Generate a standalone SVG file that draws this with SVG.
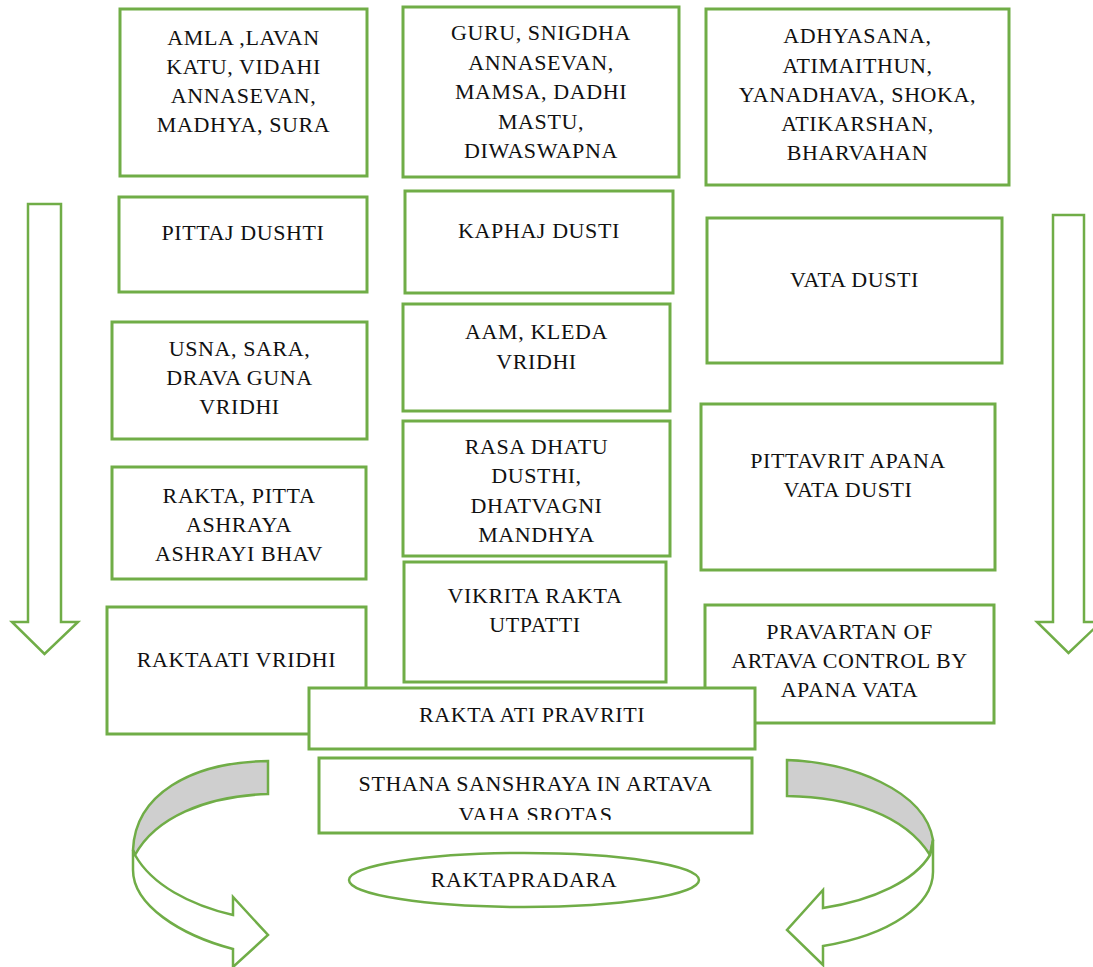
<svg xmlns="http://www.w3.org/2000/svg" width="1093" height="967" viewBox="0 0 1093 967">
<style>
.box{fill:#fff;stroke:#70AD47;stroke-width:3}
.arr{fill:#fff;stroke:#70AD47;stroke-width:2.5;stroke-linejoin:miter}
.band{fill:#CFCFCF;stroke:#70AD47;stroke-width:2.5}
text{font-family:'Liberation Serif','Times New Roman',serif;font-size:22px;letter-spacing:0.6px;fill:#111;text-anchor:middle}
</style>
<defs>
<clipPath id="clipSthana"><rect x="319" y="758" width="433" height="62"/></clipPath>
</defs>
<rect width="1093" height="967" fill="#fff"/>
<g id="connectors">
<path class="arr" d="M28,204 L61,204 L61,622 L78,622 L44.5,654 L12,622 L28,622 Z"/>
<path class="arr" d="M1053,215 L1084,215 L1084,622 L1101,622 L1068.5,653 L1037,622 L1053,622 Z"/>
<path class="band" d="M268,761 C190,762 135,795 133,850 L135,855 C155,818 205,796 268,794 Z"/>
<path class="arr" d="M135,855 C152,885 190,905 233,915 L233,897 L268,935 L233,967 L233,949 C180,935 133,905 133,870 L133,850 Z"/>
<path class="band" d="M787,760 C850,762 925,790 933,840 L930,855 C905,815 850,797 787,796 Z"/>
<path class="arr" d="M930,855 C915,880 875,900 823,908 L823,890 L787,930 L823,965 L823,946 C890,935 933,905 933,872 L933,840 Z"/>
</g>
<g id="n-amla"><rect class="box" x="120" y="9" width="247" height="167"/>
<text x="243.5" y="45">AMLA ,LAVAN</text><text x="243.5" y="74">KATU, VIDAHI</text><text x="243.5" y="103">ANNASEVAN,</text><text x="243.5" y="132">MADHYA, SURA</text></g>
<g id="n-guru"><rect class="box" x="403" y="7" width="276" height="170"/>
<text x="541" y="40">GURU, SNIGDHA</text><text x="541" y="70">ANNASEVAN,</text><text x="541" y="99">MAMSA, DADHI</text><text x="541" y="129">MASTU,</text><text x="541" y="158">DIWASWAPNA</text></g>
<g id="n-adhyasana"><rect class="box" x="706" y="9" width="303" height="176"/>
<text x="857.5" y="43">ADHYASANA,</text><text x="857.5" y="73">ATIMAITHUN,</text><text x="857.5" y="102">YANADHAVA, SHOKA,</text><text x="857.5" y="131">ATIKARSHAN,</text><text x="857.5" y="160">BHARVAHAN</text></g>
<g id="n-pittaj"><rect class="box" x="119" y="197" width="248" height="95"/>
<text x="243" y="240">PITTAJ DUSHTI</text></g>
<g id="n-kaphaj"><rect class="box" x="405" y="191" width="268" height="102"/>
<text x="539" y="238">KAPHAJ DUSTI</text></g>
<g id="n-vata"><rect class="box" x="707" y="218" width="295" height="145"/>
<text x="854.5" y="287">VATA DUSTI</text></g>
<g id="n-usna"><rect class="box" x="112" y="322" width="255" height="117"/>
<text x="239.5" y="356">USNA, SARA,</text><text x="239.5" y="385">DRAVA GUNA</text><text x="239.5" y="414">VRIDHI</text></g>
<g id="n-aam"><rect class="box" x="403" y="304" width="267" height="107"/>
<text x="536.5" y="339">AAM, KLEDA</text><text x="536.5" y="369">VRIDHI</text></g>
<g id="n-pittavrit"><rect class="box" x="701" y="404" width="294" height="166"/>
<text x="848" y="468">PITTAVRIT APANA</text><text x="848" y="497">VATA DUSTI</text></g>
<g id="n-rakta-pitta"><rect class="box" x="112" y="467" width="254" height="112"/>
<text x="239" y="503">RAKTA, PITTA</text><text x="239" y="532">ASHRAYA</text><text x="239" y="561">ASHRAYI BHAV</text></g>
<g id="n-rasa"><rect class="box" x="403" y="421" width="267" height="135"/>
<text x="536.5" y="454">RASA DHATU</text><text x="536.5" y="483">DUSTHI,</text><text x="536.5" y="513">DHATVAGNI</text><text x="536.5" y="542">MANDHYA</text></g>
<g id="n-vikrita"><rect class="box" x="404" y="562" width="262" height="120"/>
<text x="535" y="603">VIKRITA RAKTA</text><text x="535" y="632">UTPATTI</text></g>
<g id="n-raktaati"><rect class="box" x="107" y="607" width="259" height="127"/>
<text x="236.5" y="667">RAKTAATI VRIDHI</text></g>
<g id="n-pravartan"><rect class="box" x="705" y="605" width="289" height="118"/>
<text x="849.5" y="639">PRAVARTAN OF</text><text x="849.5" y="668">ARTAVA CONTROL BY</text><text x="849.5" y="697">APANA VATA</text></g>
<g id="n-rakta-ati-pravriti"><rect class="box" x="309" y="688" width="446" height="61"/>
<text x="532" y="722">RAKTA ATI PRAVRITI</text></g>
<g id="n-sthana"><rect class="box" x="319" y="758" width="433" height="75"/>
<g clip-path="url(#clipSthana)"><text x="535.5" y="791">STHANA SANSHRAYA IN ARTAVA</text><text x="535.5" y="822">VAHA SROTAS</text></g></g>
<g id="n-raktapradara"><ellipse class="box" cx="524" cy="880" rx="175" ry="27" style="stroke-width:2.5"/>
<text x="524" y="887">RAKTAPRADARA</text></g>
</svg>
